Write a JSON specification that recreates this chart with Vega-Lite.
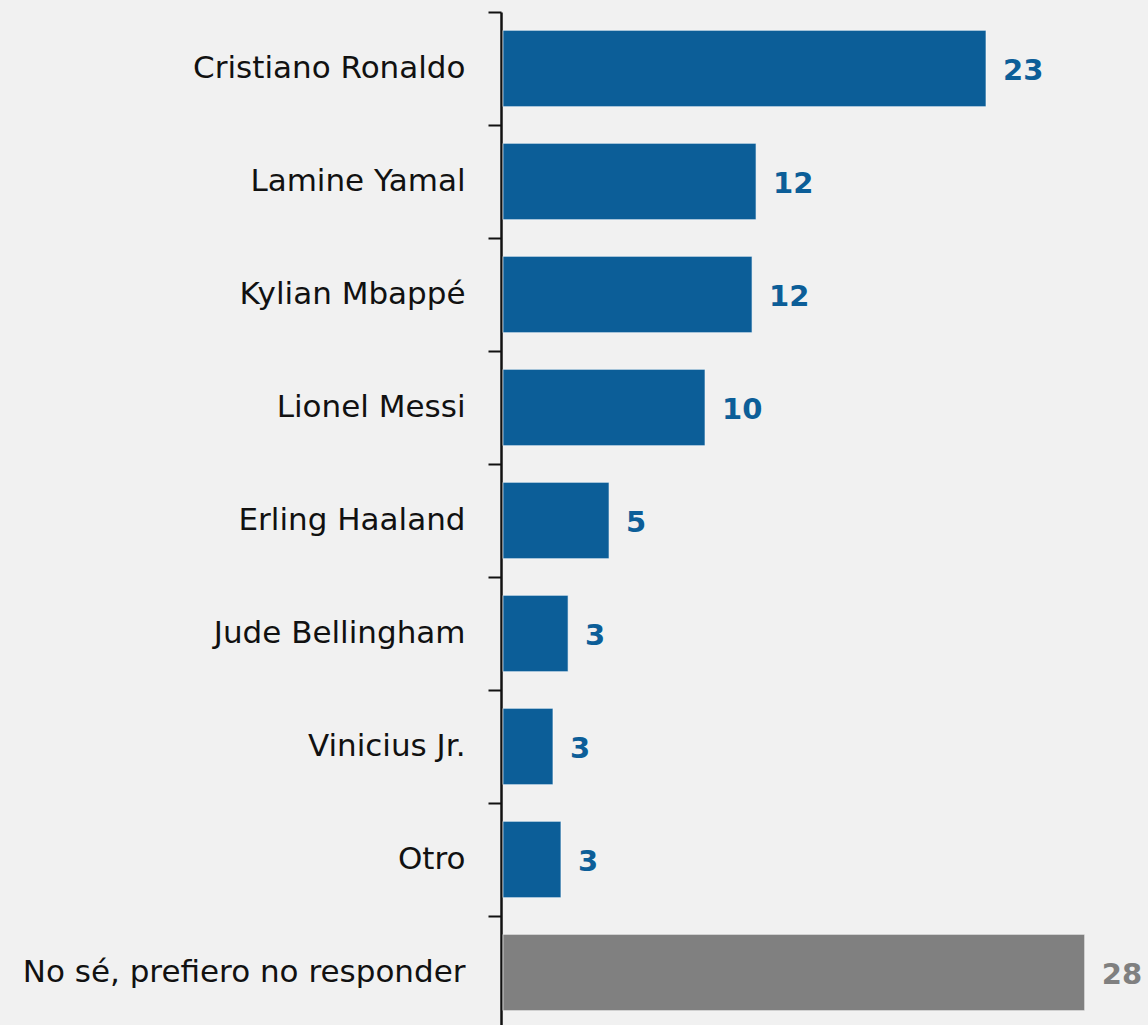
{
  "$schema": "https://vega.github.io/schema/vega-lite/v6.json",
  "width": 630,
  "height": 1017,
  "autosize": {"type": "none"},
  "padding": {"left": 501, "top": 12, "right": 17, "bottom": 0},
  "background": "#f1f1f1",
  "config": {"view": {"stroke": null}, "font": "DejaVu Sans"},
  "data": {
    "values": [
      {"name": "Cristiano Ronaldo", "value": 23.0, "label": "23", "group": "player"},
      {"name": "Lamine Yamal", "value": 12.05, "label": "12", "group": "player"},
      {"name": "Kylian Mbappé", "value": 11.86, "label": "12", "group": "player"},
      {"name": "Lionel Messi", "value": 9.62, "label": "10", "group": "player"},
      {"name": "Erling Haaland", "value": 5.05, "label": "5", "group": "player"},
      {"name": "Jude Bellingham", "value": 3.1, "label": "3", "group": "player"},
      {"name": "Vinicius Jr.", "value": 2.38, "label": "3", "group": "player"},
      {"name": "Otro", "value": 2.76, "label": "3", "group": "player"},
      {"name": "No sé, prefiero no responder", "value": 27.7, "label": "28", "group": "none"}
    ]
  },
  "encoding": {
    "y": {
      "field": "name",
      "type": "nominal",
      "sort": null,
      "scale": {"paddingInner": 0, "paddingOuter": 0},
      "axis": {
        "title": null,
        "tickBand": "extent",
        "domainColor": "#111111",
        "domainWidth": 2.5,
        "tickColor": "#111111",
        "tickWidth": 2,
        "tickSize": 13,
        "labelFontSize": 31,
        "labelColor": "#111111",
        "labelPadding": 23,
        "labelLimit": 600
      }
    },
    "x": {
      "field": "value",
      "type": "quantitative",
      "scale": {"domain": [0, 30], "nice": false},
      "axis": null
    },
    "color": {
      "field": "group",
      "type": "nominal",
      "scale": {"domain": ["player", "none"], "range": ["#0c5e98", "#808080"]},
      "legend": null
    }
  },
  "layer": [
    {
      "mark": {"type": "bar", "height": {"band": 0.675}, "xOffset": 2, "stroke": "#ffffff", "strokeWidth": 1, "strokeOpacity": 0.6}
    },
    {
      "mark": {"type": "text", "align": "left", "baseline": "middle", "dx": 19, "dy": 2, "fontSize": 29, "fontWeight": "bold", "clip": false},
      "encoding": {"text": {"field": "label"}}
    }
  ]
}
